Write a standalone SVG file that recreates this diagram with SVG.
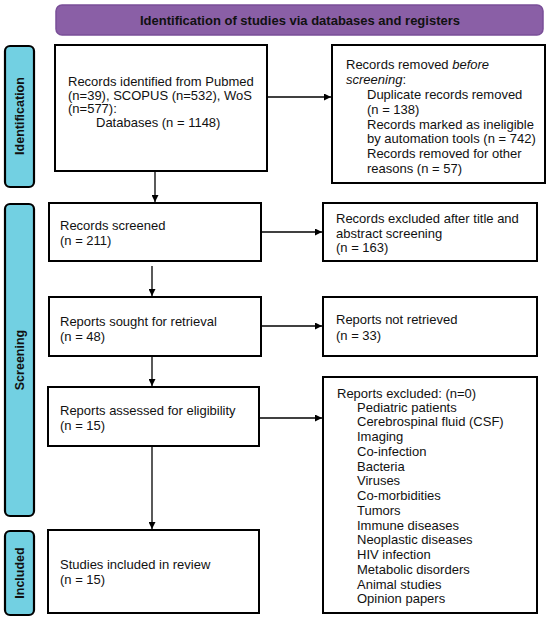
<svg xmlns="http://www.w3.org/2000/svg" width="550" height="620" viewBox="0 0 550 620">
<style>
.box{fill:#fff;stroke:#000;stroke-width:2}
.side{fill:#72d0e2;stroke:#000;stroke-width:2.2}
.hdr{fill:#8a5fa6;stroke:#7a4f98;stroke-width:1.5}
text{font-family:"Liberation Sans",Arial,sans-serif;font-size:13px;fill:#111}
.b{font-weight:bold}
.lab{font-weight:bold;font-size:12.5px;text-anchor:middle}
.con{stroke:#000;stroke-width:1.3;fill:none;marker-end:url(#ah)}
</style>
<defs>
<marker id="ah" viewBox="0 0 10 10" refX="10" refY="5" markerWidth="7" markerHeight="7" markerUnits="userSpaceOnUse" orient="auto">
<path d="M0,0 L10,5 L0,10 z" fill="#000"/>
</marker>
</defs>
<rect x="0" y="0" width="550" height="620" fill="#fff"/>
<g id="header">
<rect class="hdr" x="56" y="5" width="487" height="30" rx="6"/>
<text class="b" x="300" y="25" text-anchor="middle" font-size="12.5">Identification of studies via databases and registers</text>
</g>
<g id="phase-identification">
<rect class="side" x="5" y="46" width="29" height="141" rx="5"/>
<text class="lab" transform="translate(24,116) rotate(-90)">Identification</text>
</g>
<g id="phase-screening">
<rect class="side" x="5" y="204" width="29" height="312" rx="5"/>
<text class="lab" transform="translate(24,360) rotate(-90)">Screening</text>
</g>
<g id="phase-included">
<rect class="side" x="5" y="531" width="29" height="84" rx="5"/>
<text class="lab" transform="translate(24,573) rotate(-90)">Included</text>
</g>
<g id="records-identified">
<rect class="box" x="55" y="45" width="212" height="126"/>
<text x="68" y="86">Records identified from Pubmed</text>
<text x="68" y="99.5">(n=39), SCOPUS (n=532), WoS</text>
<text x="68" y="113">(n=577):</text>
<text x="96" y="126.5">Databases (n = 1148)</text>
</g>
<g id="records-removed">
<rect class="box" x="332" y="45" width="213" height="138"/>
<text x="346" y="69">Records removed <tspan font-style="italic">before</tspan></text>
<text x="346" y="84"><tspan font-style="italic">screening</tspan>:</text>
<text x="367" y="99">Duplicate records removed</text>
<text x="367" y="113.5">(n = 138)</text>
<text x="367" y="128.5">Records marked as ineligible</text>
<text x="367" y="143">by automation tools (n = 742)</text>
<text x="367" y="158">Records removed for other</text>
<text x="367" y="172.5">reasons (n = 57)</text>
</g>
<g id="records-screened">
<rect class="box" x="49" y="203" width="212" height="58"/>
<text x="60" y="230">Records screened</text>
<text x="60" y="245">(n = 211)</text>
</g>
<g id="records-excluded">
<rect class="box" x="323" y="203" width="214" height="58"/>
<text x="336" y="223">Records excluded after title and</text>
<text x="336" y="238">abstract screening</text>
<text x="336" y="252">(n = 163)</text>
</g>
<g id="reports-sought">
<rect class="box" x="49" y="297" width="212" height="59"/>
<text x="60" y="326">Reports sought for retrieval</text>
<text x="60" y="341">(n = 48)</text>
</g>
<g id="reports-not-retrieved">
<rect class="box" x="323" y="297" width="214" height="59"/>
<text x="336" y="324">Reports not retrieved</text>
<text x="336" y="340">(n = 33)</text>
</g>
<g id="reports-assessed">
<rect class="box" x="48" y="387" width="211" height="59"/>
<text x="60" y="415">Reports assessed for eligibility</text>
<text x="60" y="430">(n = 15)</text>
</g>
<g id="reports-excluded">
<rect class="box" x="323" y="377" width="214" height="236"/>
<text x="337" y="398">Reports excluded: (n=0)</text>
<text x="357" y="411.5">Pediatric patients</text>
<text x="357" y="426.3">Cerebrospinal fluid (CSF)</text>
<text x="357" y="441">Imaging</text>
<text x="357" y="455.8">Co-infection</text>
<text x="357" y="470.6">Bacteria</text>
<text x="357" y="485.3">Viruses</text>
<text x="357" y="500">Co-morbidities</text>
<text x="357" y="514.8">Tumors</text>
<text x="357" y="529.6">Immune diseases</text>
<text x="357" y="544.3">Neoplastic diseases</text>
<text x="357" y="559">HIV infection</text>
<text x="357" y="573.8">Metabolic disorders</text>
<text x="357" y="588.6">Animal studies</text>
<text x="357" y="603.3">Opinion papers</text>
</g>
<g id="studies-included">
<rect class="box" x="48" y="530" width="211" height="83"/>
<text x="60" y="569">Studies included in review</text>
<text x="60" y="584">(n = 15)</text>
</g>
<g id="connectors">
<line class="con" x1="155" y1="172" x2="155" y2="202"/>
<line class="con" x1="267" y1="97" x2="331" y2="97"/>
<line class="con" x1="152" y1="266" x2="152" y2="296"/>
<line class="con" x1="261" y1="232" x2="322" y2="232"/>
<line class="con" x1="152" y1="357" x2="152" y2="386"/>
<line class="con" x1="261" y1="326" x2="322" y2="326"/>
<line class="con" x1="152" y1="447" x2="152" y2="529"/>
<line class="con" x1="259" y1="418" x2="322" y2="418"/>
</g>
</svg>
